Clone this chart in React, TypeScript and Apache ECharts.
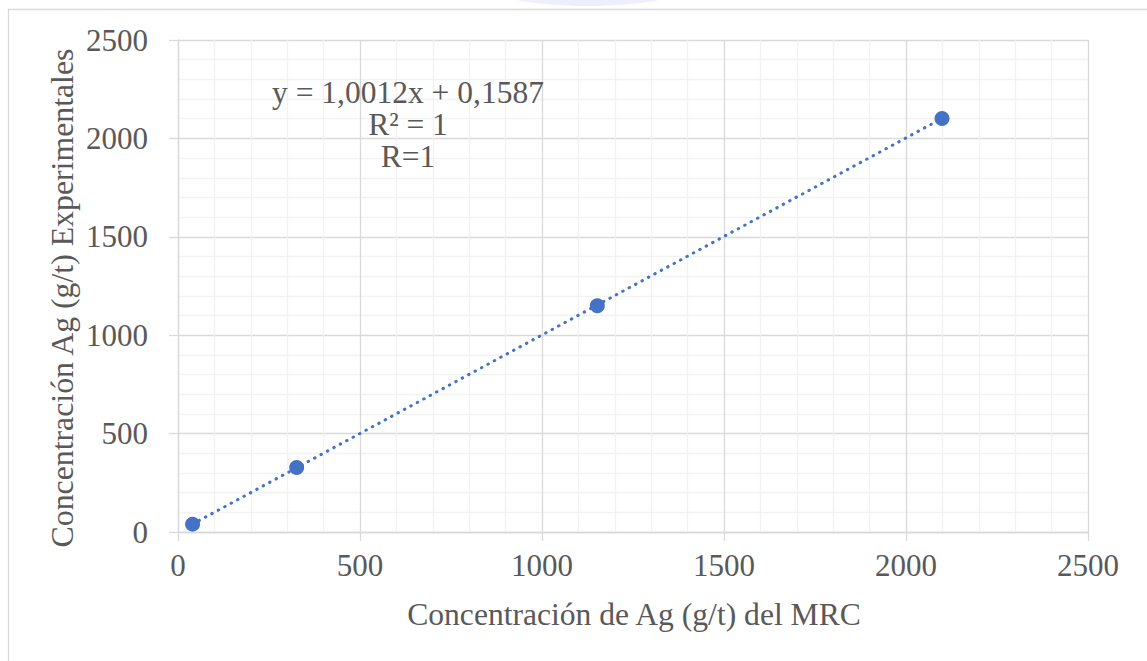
import React, { useEffect, useRef } from "react";
import * as echarts from "echarts";

const xValues = [40, 326, 1152, 2099];
const yValues = [40, 328, 1150, 2101];
const slope = 1.0012;
const intercept = 0.1587;
const trendX = [40, 2099];
const axisTicks = [0, 500, 1000, 1500, 2000, 2500];
const equationLines = ["y = 1,0012x + 0,1587", "R² = 1", "R=1"];
const xTitle = "Concentración de Ag (g/t) del MRC";
const yTitle = "Concentración Ag (g/t) Experimentales";

const FONT = "'Liberation Serif', 'Times New Roman', serif";
const TEXT = "#595959";

export default function App() {
  const ref = useRef<HTMLDivElement>(null);
  useEffect(() => {
    if (!ref.current) return;
    const chart = echarts.init(ref.current, null, { renderer: "svg" });
    const points = xValues.map((x, i) => [x, yValues[i]]);
    const trend = trendX.map((x) => [x, slope * x + intercept]);
    const axisCommon = {
      type: "value" as const,
      min: axisTicks[0],
      max: axisTicks[axisTicks.length - 1],
      interval: 500,
      axisLine: { show: true, lineStyle: { color: "#D9D9D9", width: 1.3 } },
      axisTick: { show: true, inside: false, length: 9, lineStyle: { color: "#D9D9D9", width: 1.3 } },
      splitLine: { show: true, lineStyle: { color: "#D9D9D9", width: 1.3 } },
      minorTick: { show: false, splitNumber: 5 },
      minorSplitLine: { show: true, lineStyle: { color: "#F2F2F2", width: 1.3 } },
    };
    chart.setOption({
      animation: false,
      backgroundColor: "#ffffff",
      grid: { left: 178, right: 59, top: 40, bottom: 129, containLabel: false },
      xAxis: {
        ...axisCommon,
        axisLabel: {
          color: TEXT,
          fontFamily: FONT,
          fontSize: 31,
          margin: 18,
          formatter: (v: number) => String(v),
        },
      },
      yAxis: {
        ...axisCommon,
        axisLabel: {
          color: TEXT,
          fontFamily: FONT,
          fontSize: 31,
          margin: 30,
          formatter: (v: number) => String(v),
        },
      },
      graphic: [
        {
          type: "rect",
          z: -1,
          shape: { x: 8.5, y: 9.5, width: 1300, height: 800 },
          style: { fill: "none", stroke: "#D9D9D9", lineWidth: 1.3 },
          silent: true,
        },
        {
          type: "ellipse",
          z: -2,
          shape: { cx: 588, cy: -16, rx: 105, ry: 22 },
          style: { fill: "rgba(200,200,245,0.3)" },
          silent: true,
        },
        {
          type: "text",
          x: 634,
          y: 614,
          style: {
            text: xTitle,
            fill: TEXT,
            font: `31.6px ${FONT}`,
            align: "center",
            verticalAlign: "middle",
          },
        },
        {
          type: "text",
          x: 62,
          y: 298,
          rotation: Math.PI / 2,
          style: {
            text: yTitle,
            fill: TEXT,
            font: `31.8px ${FONT}`,
            align: "center",
            verticalAlign: "middle",
          },
        },
        ...equationLines.map((t, i) => ({
          type: "text",
          x: 408,
          y: 92 + i * 32,
          z: 10,
          style: {
            text: t,
            fill: TEXT,
            font: `31.5px ${FONT}`,
            align: "center",
            verticalAlign: "middle",
          },
        })),
      ],
      series: [
        {
          type: "line",
          data: trend,
          symbol: "none",
          lineStyle: { color: "#4472C4", width: 3, type: [0.5, 6.8], cap: "round" },
          z: 2,
        },
        {
          type: "scatter",
          data: points,
          symbol: "circle",
          symbolSize: 15,
          itemStyle: { color: "#4472C4", opacity: 1 },
          z: 3,
        },
      ],
    });
    return () => chart.dispose();
  }, []);
  return (
    <div
      ref={ref}
      style={{ position: "fixed", left: 0, top: 0, width: 1147, height: 661 }}
    />
  );
}
